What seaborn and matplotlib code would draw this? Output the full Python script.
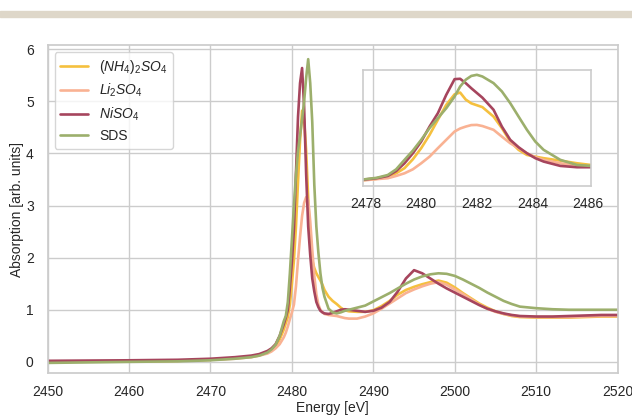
import matplotlib
matplotlib.use("Agg")
import matplotlib.pyplot as plt
import pandas as pd
import seaborn as sns
from matplotlib.patches import Rectangle

# ---------------- data ----------------
energy = [2450, 2460, 2466, 2470, 2473, 2475, 2476, 2477, 2477.5, 2478, 2478.5,
          2479, 2479.25, 2479.5, 2479.75, 2480, 2480.25, 2480.5, 2480.75, 2481,
          2481.25, 2481.5, 2481.75, 2482, 2482.25, 2482.5, 2482.75, 2483, 2483.25,
          2483.5, 2483.75, 2484, 2484.5, 2485, 2485.5, 2486, 2486.5, 2487, 2488,
          2489, 2490, 2491, 2492, 2493, 2494, 2495, 2496, 2497, 2498, 2499, 2500,
          2501, 2502, 2503, 2504, 2505, 2506, 2507, 2508, 2510, 2512, 2514, 2516,
          2518, 2520]

nh4_so4 = [0.00, 0.01, 0.02, 0.04, 0.07, 0.10, 0.13, 0.18, 0.22, 0.30, 0.43,
           0.62, 0.74, 0.86, 1.10, 1.50, 1.95, 2.60, 3.45, 4.25,
           4.82, 4.65, 4.05, 3.15, 2.30, 1.95, 1.80, 1.70, 1.63,
           1.56, 1.48, 1.38, 1.25, 1.17, 1.11, 1.04, 0.99, 0.97, 0.96,
           0.96, 0.99, 1.07, 1.17, 1.29, 1.38, 1.44, 1.49, 1.53, 1.56, 1.52, 1.43,
           1.32, 1.22, 1.12, 1.04, 0.97, 0.92, 0.88, 0.86, 0.85, 0.85, 0.85, 0.86,
           0.87, 0.87]

li2_so4 = [0.00, 0.01, 0.02, 0.04, 0.06, 0.09, 0.12, 0.16, 0.20, 0.26, 0.34,
           0.47, 0.56, 0.68, 0.82, 0.95, 1.10, 1.45, 1.95, 2.40,
           2.80, 3.05, 3.16, 3.10, 2.70, 2.15, 1.65, 1.30, 1.10,
           1.00, 0.95, 0.92, 0.90, 0.89, 0.88, 0.86, 0.84, 0.83, 0.83,
           0.87, 0.93, 1.02, 1.12, 1.22, 1.32, 1.39, 1.45, 1.50, 1.53, 1.48, 1.39,
           1.30, 1.20, 1.10, 1.02, 0.96, 0.92, 0.89, 0.87, 0.86, 0.86, 0.86, 0.87,
           0.88, 0.88]

ni_so4 = [0.02, 0.03, 0.04, 0.06, 0.09, 0.12, 0.15, 0.21, 0.26, 0.34, 0.50,
          0.72, 0.85, 1.00, 1.42, 1.92, 2.55, 3.62, 4.70, 5.35,
          5.64, 4.90, 3.60, 2.60, 2.05, 1.60, 1.35, 1.15, 1.05,
          0.98, 0.95, 0.93, 0.92, 0.94, 0.97, 1.00, 1.01, 1.00, 0.98,
          0.96, 0.98, 1.04, 1.15, 1.35, 1.60, 1.76, 1.70, 1.60, 1.50, 1.41, 1.33,
          1.25, 1.17, 1.09, 1.02, 0.97, 0.93, 0.90, 0.88, 0.87, 0.87, 0.88, 0.89,
          0.90, 0.90]

sds = [-0.02, 0.00, 0.01, 0.03, 0.06, 0.09, 0.12, 0.18, 0.24, 0.33, 0.50,
       0.78, 0.88, 1.15, 1.70, 2.35, 3.00, 3.60, 4.05, 4.35,
       4.65, 5.00, 5.45, 5.81, 5.35, 4.60, 3.40, 2.60, 2.10,
       1.70, 1.42, 1.25, 1.02, 0.95, 0.93, 0.95, 0.98, 1.00, 1.04,
       1.08, 1.16, 1.24, 1.32, 1.41, 1.50, 1.58, 1.64, 1.68, 1.70, 1.69, 1.65,
       1.58, 1.50, 1.42, 1.33, 1.25, 1.17, 1.11, 1.06, 1.03, 1.01, 1.00, 1.00,
       1.00, 1.00]

# inset (zoom on the white line) values as drawn in the inset panel
inset_energy = [2477.9, 2478.4, 2478.8, 2479.1, 2479.4, 2479.7, 2480.0, 2480.3,
                2480.6, 2480.9, 2481.2, 2481.4, 2481.6, 2481.8, 2482.0, 2482.2,
                2482.6, 2482.9, 2483.2, 2483.5, 2483.8, 2484.1, 2484.4, 2485.0,
                2485.6, 2486.1]
inset_nh4_so4 = [0.24, 0.31, 0.43, 0.60, 0.87, 1.34, 1.93, 2.63, 3.43, 4.22, 4.78,
                 4.87, 4.50, 4.30, 4.20, 4.10, 3.60, 2.99, 2.28, 1.84, 1.57, 1.48,
                 1.40, 1.27, 1.13, 1.04]
inset_li2_so4 = [0.22, 0.29, 0.34, 0.46, 0.60, 0.81, 1.13, 1.48, 1.93, 2.37, 2.81,
                 2.97, 3.07, 3.15, 3.16, 3.10, 2.90, 2.54, 2.19, 1.93, 1.66, 1.45,
                 1.31, 1.13, 0.99, 0.96]
inset_ni_so4 = [0.26, 0.34, 0.46, 0.72, 1.13, 1.66, 2.28, 3.07, 3.78, 4.75, 5.58,
                5.60, 5.37, 5.10, 4.85, 4.60, 3.96, 3.07, 2.37, 1.98, 1.66, 1.40,
                1.22, 0.99, 0.92, 0.92]
inset_sds = [0.27, 0.36, 0.51, 0.81, 1.31, 1.80, 2.37, 2.99, 3.52, 4.04, 4.66,
             5.19, 5.55, 5.75, 5.81, 5.72, 5.37, 4.93, 4.31, 3.60, 2.90, 2.28,
             1.84, 1.31, 1.04, 0.99]

sample_labels = [r"$(NH_4)_2SO_4$", r"$Li_2SO_4$", r"$NiSO_4$", "SDS"]
colors = ["#F5C03E", "#F9B293", "#A6455D", "#9CAF6C"]
x_ticks = [2450, 2460, 2470, 2480, 2490, 2500, 2510, 2520]
y_ticks = [0, 1, 2, 3, 4, 5, 6]
inset_ticks = [2478, 2480, 2482, 2484, 2486]

# ---------------- style ----------------
sns.set_theme(style="whitegrid")
plt.rcParams["font.family"] = ["Liberation Sans", "DejaVu Sans"]
plt.rcParams["mathtext.fontset"] = "custom"
plt.rcParams["mathtext.rm"] = "Liberation Sans"
plt.rcParams["mathtext.it"] = "Liberation Sans:italic"
plt.rcParams["xtick.labelsize"] = 10
plt.rcParams["ytick.labelsize"] = 10
plt.rcParams["axes.labelsize"] = 10
plt.rcParams["text.color"] = "#262626"

main_series = [nh4_so4, li2_so4, ni_so4, sds]
main_df = pd.DataFrame({
    "Energy": energy * len(main_series),
    "Absorption": [v for s in main_series for v in s],
    "Sample": [lab for lab in sample_labels for _ in energy],
})
inset_series = [inset_nh4_so4, inset_li2_so4, inset_ni_so4, inset_sds]
inset_df = pd.DataFrame({
    "Energy": inset_energy * len(inset_series),
    "Absorption": [v for s in inset_series for v in s],
    "Sample": [lab for lab in sample_labels for _ in inset_energy],
})

fig = plt.figure(figsize=(6.32, 4.16), dpi=100)
fig.patches.append(Rectangle((0, 0.959), 1, 0.0145, transform=fig.transFigure,
                             color="#ded7c9", zorder=0))

ax = fig.add_axes([0.0753, 0.1026, 0.902, 0.789])
sns.lineplot(data=main_df, x="Energy", y="Absorption", hue="Sample",
             hue_order=sample_labels, palette=colors, linewidth=1.9,
             errorbar=None, ax=ax)
ax.set_xlim(2450, 2520)
ax.set_ylim(-0.22, 6.08)
ax.set_xticks(x_ticks)
ax.set_yticks(y_ticks)
ax.set_xlabel("Energy [eV]", labelpad=1)
ax.set_ylabel("Absorption [arb. units]", labelpad=1.5)
ax.tick_params(axis="y", pad=4)
ax.tick_params(axis="x", pad=2.5)
sns.move_legend(ax, "upper left", title=None, frameon=True, fontsize=10,
                labelspacing=0.45)

axin = fig.add_axes([0.574, 0.553, 0.361, 0.279])
axin.set_facecolor("none")
sns.lineplot(data=inset_df, x="Energy", y="Absorption", hue="Sample",
             hue_order=sample_labels, palette=colors, linewidth=1.9,
             errorbar=None, legend=False, ax=axin)
axin.grid(False)
axin.set_xlim(2477.9, 2486.1)
axin.set_ylim(-0.07, 6.07)
axin.set_xticks(inset_ticks)
axin.set_yticks([])
axin.set_xlabel("")
axin.set_ylabel("")
axin.tick_params(axis="x", pad=2)
for sp in axin.spines.values():
    sp.set_color("#cccccc")
    sp.set_linewidth(1.2)

fig.savefig("out.png", dpi=100)
